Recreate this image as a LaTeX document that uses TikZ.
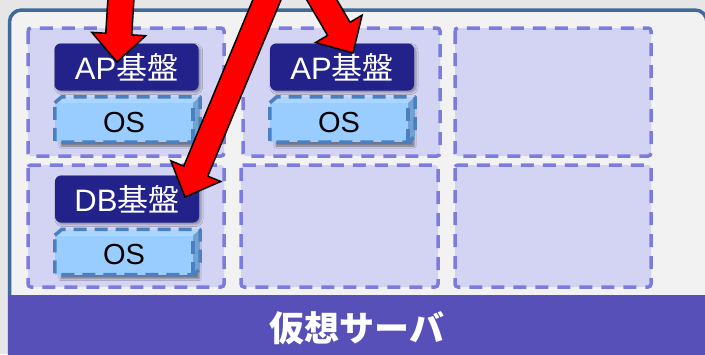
\documentclass[tikz,border=0pt]{standalone}
\usepackage{fontspec}
\setmainfont{Noto Sans CJK JP}
\newfontfamily\latf{Liberation Sans}
\usetikzlibrary{calc,shadows.blur}
\definecolor{bgc}{HTML}{E6E6E6}
\definecolor{srvf}{HTML}{F2F2F2}
\definecolor{srvb}{HTML}{3F6A9A}
\definecolor{cellf}{HTML}{D3D3F3}
\definecolor{cellb}{HTML}{7B7BE0}
\definecolor{apf}{HTML}{22228A}
\definecolor{osf}{HTML}{99CCFF}
\definecolor{ost}{HTML}{A9D5FF}
\definecolor{oss}{HTML}{72A2D2}
\definecolor{osb}{HTML}{4A80C0}
\definecolor{bandc}{HTML}{5750B8}
\tikzset{
  cellbox/.style={draw=cellb, fill=cellf, line width=3.5pt, dash pattern=on 13pt off 9pt, rounded corners=3pt},
  apbox/.style={fill=apf, rounded corners=6pt, minimum width=144pt, minimum height=47pt, inner sep=0pt, text=white,
    font=\fontsize{31}{31}\selectfont,
    blur shadow={shadow xshift=2pt, shadow yshift=-2pt, shadow blur steps=4, shadow opacity=35}},
  osfront/.style={fill=osf, minimum width=138pt, minimum height=39pt, inner sep=0pt, text=black,
    font=\fontsize{29}{29}\selectfont\latf,
    blur shadow={shadow xshift=6pt, shadow yshift=-4pt, shadow blur steps=5, shadow opacity=45}},
  ostop/.style={fill=ost},
  osside/.style={fill=oss},
  osdash/.style={draw=osb, line width=3.5pt, dash pattern=on 13pt off 8pt, line join=round},
  arrowst/.style={fill=red, draw=black, line width=1.5pt, line join=miter},
}
\newcommand\osbox[3]{%
  \node[osfront] (#1) at (#2,#3) {OS};
  \fill[ostop] (#1.north west) -- ++(7,-6) -- ($(#1.north east)+(7,-6)$) -- (#1.north east) -- cycle;
  \fill[osside] (#1.north east) -- ++(7,-6) -- ($(#1.south east)+(7,-6)$) -- (#1.south east) -- cycle;
  \draw[osdash] (#1.north west) -- ++(7,-6) -- ($(#1.north east)+(7,-6)$) -- ($(#1.south east)+(7,-6)$) -- (#1.south east) -- (#1.south west) -- cycle;
  \draw[osdash] (#1.south east) -- (#1.north east);
}
\newcommand\redarrow[3]{%
  \coordinate (#3-b) at ($(#2)!28pt!(#1)$);
  \filldraw[arrowst] ($(#1)!13pt!90:(#2)$) -- ($(#3-b)!13pt!90:(#2)$) -- ($(#3-b)!27pt!90:(#2)$) -- (#2)
    -- ($(#3-b)!27pt!-90:(#2)$) -- ($(#3-b)!13pt!-90:(#2)$) -- ($(#1)!13pt!-90:(#2)$) -- cycle;
}
\begin{document}
\begin{tikzpicture}[x=1pt,y=-1pt]
\useasboundingbox (0,0) rectangle (705,354);
\clip (0,0) rectangle (705,354);
\fill[bgc] (0,0) rectangle (705,354);
% server
\draw[fill=srvf, draw=srvb, line width=3.5pt, rounded corners=12pt] (9.5,10) rectangle (707,380);
% cells
\draw[cellbox] (28,28) rectangle (224,156);
\draw[cellbox] (243,28) rectangle (440,156);
\draw[cellbox] (455,28) rectangle (651,156);
\draw[cellbox] (28,165) rectangle (224,287);
\draw[cellbox] (241,165) rectangle (438,287);
\draw[cellbox] (455,165) rectangle (651,287);
% platforms
\node[apbox] (ap1) at (126.5,67) {{\latf AP}基盤};
\node[apbox] (ap2) at (342,67) {{\latf AP}基盤};
\node[apbox] (db) at (127,199) {{\latf DB}基盤};
\osbox{os1}{124}{122.5}
\osbox{os2}{339}{122.5}
\osbox{os3}{124}{255}
% band
\node[fill=bandc, minimum width=698pt, minimum height=66pt, inner sep=0pt, anchor=north west, text=white,
  font=\fontsize{35}{35}\selectfont\bfseries] (band) at (8,295) {仮想サーバ};
% arrows
\coordinate (s1) at (121.5,-10);
\coordinate (t1) at (117,62);
\coordinate (s2) at (271,-10);
\coordinate (t2) at (185,197);
\coordinate (s3) at (316,-10);
\coordinate (t3) at (353,53);
\redarrow{s1}{t1}{a1}
\redarrow{s2}{t2}{a2}
\redarrow{s3}{t3}{a3}
\end{tikzpicture}
\end{document}
